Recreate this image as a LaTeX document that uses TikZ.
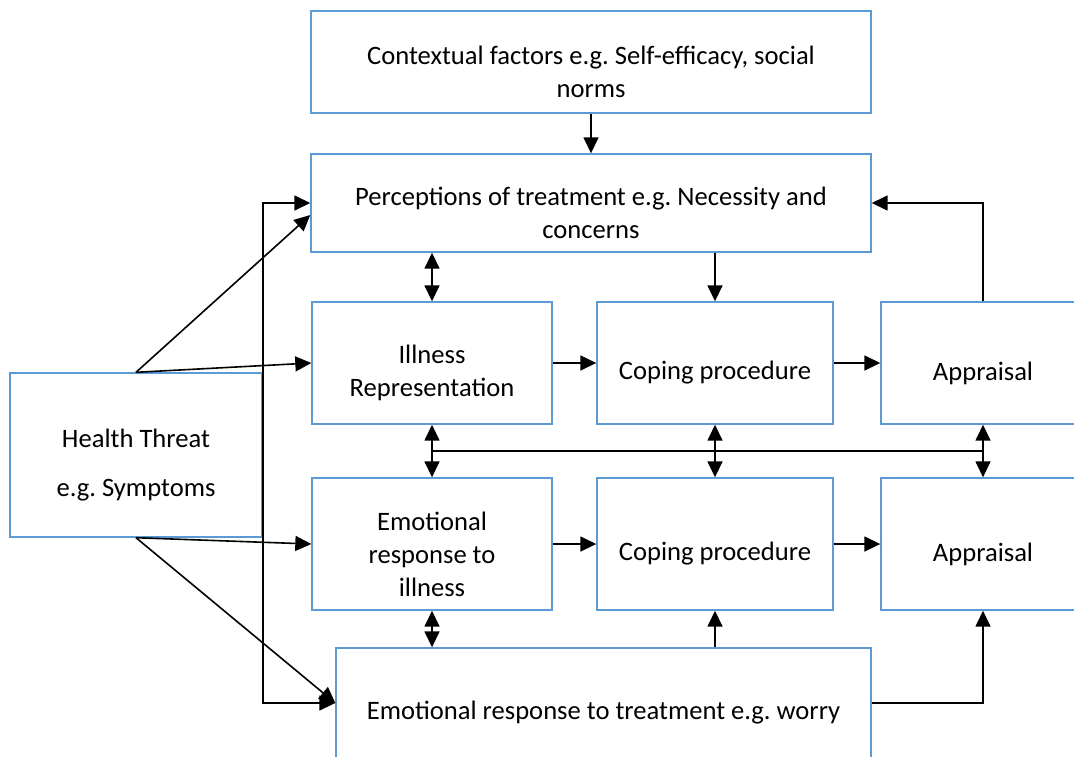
\documentclass[tikz,border=0pt]{standalone}
\usepackage{fontspec}
\setmainfont{Carlito}
\frenchspacing
\usetikzlibrary{arrows.meta,calc}
\definecolor{boxblue}{RGB}{91,155,213}
\tikzset{
box/.style = {draw=boxblue, line width=0.7pt, fill=white, rectangle, inner sep=0pt},
boxtext/.style = {align=center, yshift=-5pt, inner sep=0pt},
link/.style = {line width=0.8pt}
}

\begin{document}
\begin{tikzpicture}[x=0.5pt, y=-0.5pt, >={Triangle[length=8pt,width=7.5pt]},
    font=\fontsize{13.3}{16.5}\selectfont\frenchspacing]
    \useasboundingbox (0,0) rectangle (1074,756);
    % top boxes
    \node [box, minimum width=280pt, minimum height=51pt,
        label={[boxtext]center:Contextual factors e.g. Self-efficacy, social\\norms}] (ctx) at (591,62) {};
    \node [box, minimum width=280pt, minimum height=49pt,
        label={[boxtext]center:Perceptions of treatment e.g. Necessity and\\concerns}] (perc) at (591,203) {};
    % first row
    \node [box, minimum width=120pt, minimum height=61pt,
        label={[boxtext]center:Illness\\Representation}] (ill) at (432,363) {};
    \node [box, minimum width=118pt, minimum height=61pt,
        label={[boxtext]center:Coping procedure}] (cop1) at (715,363) {};
    \node [box, minimum width=102pt, minimum height=61pt,
        label={[boxtext]center:Appraisal}] (app1) at (983,363) {};
    % second row
    \node [box, minimum width=120pt, minimum height=66pt,
        label={[boxtext]center:Emotional\\response to\\illness}] (emi) at (432,544) {};
    \node [box, minimum width=118pt, minimum height=66pt,
        label={[boxtext]center:Coping procedure}] (cop2) at (715,544) {};
    \node [box, minimum width=102pt, minimum height=66pt,
        label={[boxtext]center:Appraisal}] (app2) at (983,544) {};
    \node [box, minimum width=267.5pt, minimum height=55pt,
        label={[boxtext]center:Emotional response to treatment e.g. worry}] (emt) at (603.5,703) {};
    \node [box, minimum width=126pt, minimum height=82pt,
        label={[boxtext]center:Health Threat\\[8pt]e.g. Symptoms}] (ht) at (136,455) {};

    \coordinate (midl) at ($(ill.south)!0.5!(emi.north)$);
    \coordinate (bus) at (ht.east |- emt.west);

    \draw [link,->] (ctx.south) -- (perc.north);
    \draw [link,<->] (ill.north |- perc.south) -- (ill.north);
    \draw [link,->] (cop1.north |- perc.south) -- (cop1.north);
    \draw [link,->] (app1.north) |- (perc.east);
    \draw [link,->] (ill) -- (cop1);
    \draw [link,->] (cop1) -- (app1);
    \draw [link,<->] (ill.south) -- (emi.north);
    \draw [link,<->] (cop1.south) -- (cop2.north);
    \draw [link,<->] (app1.south) -- (app2.north);
    \draw [link] (midl) -- (midl -| app1.south);
    \draw [link,->] (emi) -- (cop2);
    \draw [link,->] (cop2) -- (app2);
    \draw [link,<->] (emi.south) -- (emi.south |- emt.north);
    \draw [link,->] (cop2.south |- emt.north) -- (cop2.south);
    \draw [link,->] (emt.east) -| (app2.south);
    \draw [link,->] (ht.north) -- ([yshift=-6pt]perc.west);
    \draw [link,->] (ht.north) -- (ill.west);
    \draw [link,->] (ht.south) -- (emi.west);
    \draw [link,->] (ht.south) -- (emt.west);
    \draw [link,<->] (perc.west) -| (bus) -- (emt.west);
\end{tikzpicture}
\end{document}
